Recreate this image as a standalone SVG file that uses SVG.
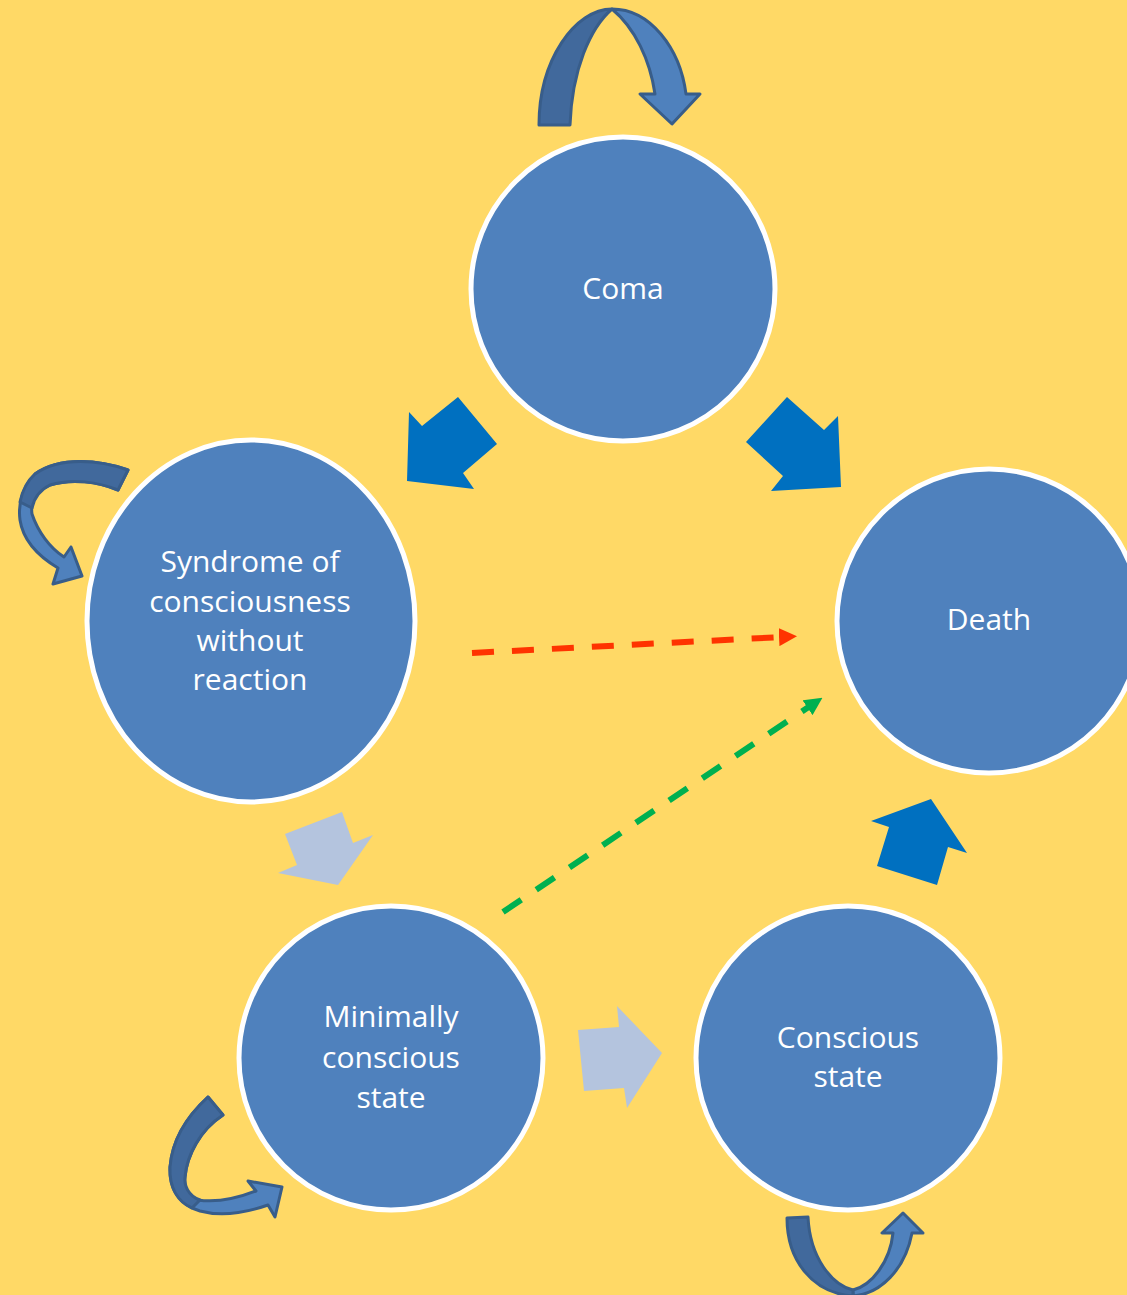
<svg xmlns="http://www.w3.org/2000/svg" width="1127" height="1295" viewBox="0 0 1127 1295">
<defs>
<style>
.node{fill:#4f81bd;stroke:#ffffff;stroke-width:5}
.lbl{fill:#ffffff;font-family:"Open Sans","Noto Sans","Liberation Sans",sans-serif;font-size:30px;text-anchor:middle;dominant-baseline:central}
.blk{fill:#0070c0}
.lite{fill:#b4c4de}
.cl{fill:#4f81bd;stroke:#385d8a;stroke-width:3;stroke-linejoin:round}
.cd{fill:#41699c;stroke:#385d8a;stroke-width:3;stroke-linejoin:round}
.dash{fill:none;stroke-width:6;stroke-dasharray:22 18}
</style>
<marker id="ahR" markerWidth="3" markerHeight="3" refX="1" refY="3" orient="auto" markerUnits="strokeWidth" viewBox="0 0 6 6">
<path d="M0,0 L6,3 L0,6 Z" fill="#ff3300"/>
</marker>
<marker id="ahG" markerWidth="3" markerHeight="3" refX="1" refY="3" orient="auto" markerUnits="strokeWidth" viewBox="0 0 6 6">
<path d="M0,0 L6,3 L0,6 Z" fill="#00b050"/>
</marker>
</defs>
<rect x="0" y="0" width="1127" height="1295" fill="#ffd966"/>

<g id="connectors">
<polygon class="blk" points="409,412 422,426 458,397 497,444 463,473 474,489 407,481"/>
<polygon class="blk" points="787,397 824,430 838,416 841,487 771,491 783,476 746,442"/>
<polygon class="lite" points="285,834 342,812 353,843 373,835 338,885 278,873 297,865"/>
<polygon class="lite" points="578,1030 619,1027 617,1006 662,1053 627,1108 624,1088 584,1091"/>
<polygon class="blk" points="871,821 931,799 967,853 948,847 937,885 877,866 889,827"/>
<line class="dash" x1="472" y1="653" x2="782" y2="637" stroke="#ff3300" marker-end="url(#ahR)"/>
<line class="dash" x1="503" y1="912" x2="810" y2="706" stroke="#00b050" marker-end="url(#ahG)"/>

<!-- Coma self loop -->
<path class="cl" d="M612,9 C650,9 680,48 686,94 L700,94 L672,124 L640,94 L655,94 C650,60 635,28 612,9 Z"/>
<path class="cd" d="M539,125 C539,60 575,9 612,9 C590,28 572,70 570,125 Z"/>

<!-- Syndrome self loop -->
<path class="cl" d="M128,470 C100,460 60,456 35,474 C22,487 18,505 20,520 C23,540 38,556 58,568 L53,584 L82,576 L71,547 L64,557 C50,548 38,532 32,514 C30,500 38,490 50,485 C72,478 98,482 118,490 Z"/>
<path class="cd" d="M128,470 C100,460 60,456 35,474 C26,482 22,492 20,502 L32,508 C34,498 40,490 50,485 C72,478 98,482 118,490 Z"/>

<!-- Minimally self loop -->
<path class="cl" d="M208,1097 C185,1118 172,1142 170,1167 C169,1190 180,1205 200,1211 C222,1217 248,1212 268,1205 L275,1217 L282,1187 L248,1181 L256,1191 C238,1198 218,1203 198,1200 C186,1196 184,1185 185,1177 C187,1155 200,1130 223,1115 Z"/>
<path class="cd" d="M208,1097 C185,1118 172,1142 170,1167 C169,1188 178,1202 192,1208 L200,1200 C188,1196 184,1185 185,1177 C187,1155 200,1130 223,1115 Z"/>

<!-- Conscious self loop -->
<path class="cl" d="M853,1296 C880,1294 905,1270 912,1233 L923,1233 L903,1213 L882,1233 L893,1233 C890,1262 872,1285 853,1290 Z"/>
<path class="cd" d="M787,1218 C787,1260 812,1293 853,1296 L853,1290 C832,1285 810,1258 808,1217 Z"/>
</g>

<g id="coma">
<circle class="node" cx="623" cy="289" r="152"/>
<text class="lbl" x="623" y="287">Coma</text>
</g>
<g id="syndrome">
<ellipse class="node" cx="251" cy="621" rx="164" ry="181"/>
<text class="lbl" x="250" y="560">Syndrome of</text>
<text class="lbl" x="250" y="600">consciousness</text>
<text class="lbl" x="250" y="639">without</text>
<text class="lbl" x="250" y="678">reaction</text>
</g>
<g id="death">
<circle class="node" cx="989" cy="621" r="152"/>
<text class="lbl" x="989" y="618">Death</text>
</g>
<g id="minimally">
<circle class="node" cx="391" cy="1058" r="152"/>
<text class="lbl" x="391" y="1015">Minimally</text>
<text class="lbl" x="391" y="1056">conscious</text>
<text class="lbl" x="391" y="1096">state</text>
</g>
<g id="conscious">
<circle class="node" cx="848" cy="1058" r="152"/>
<text class="lbl" x="848" y="1036">Conscious</text>
<text class="lbl" x="848" y="1075">state</text>
</g>
</svg>
